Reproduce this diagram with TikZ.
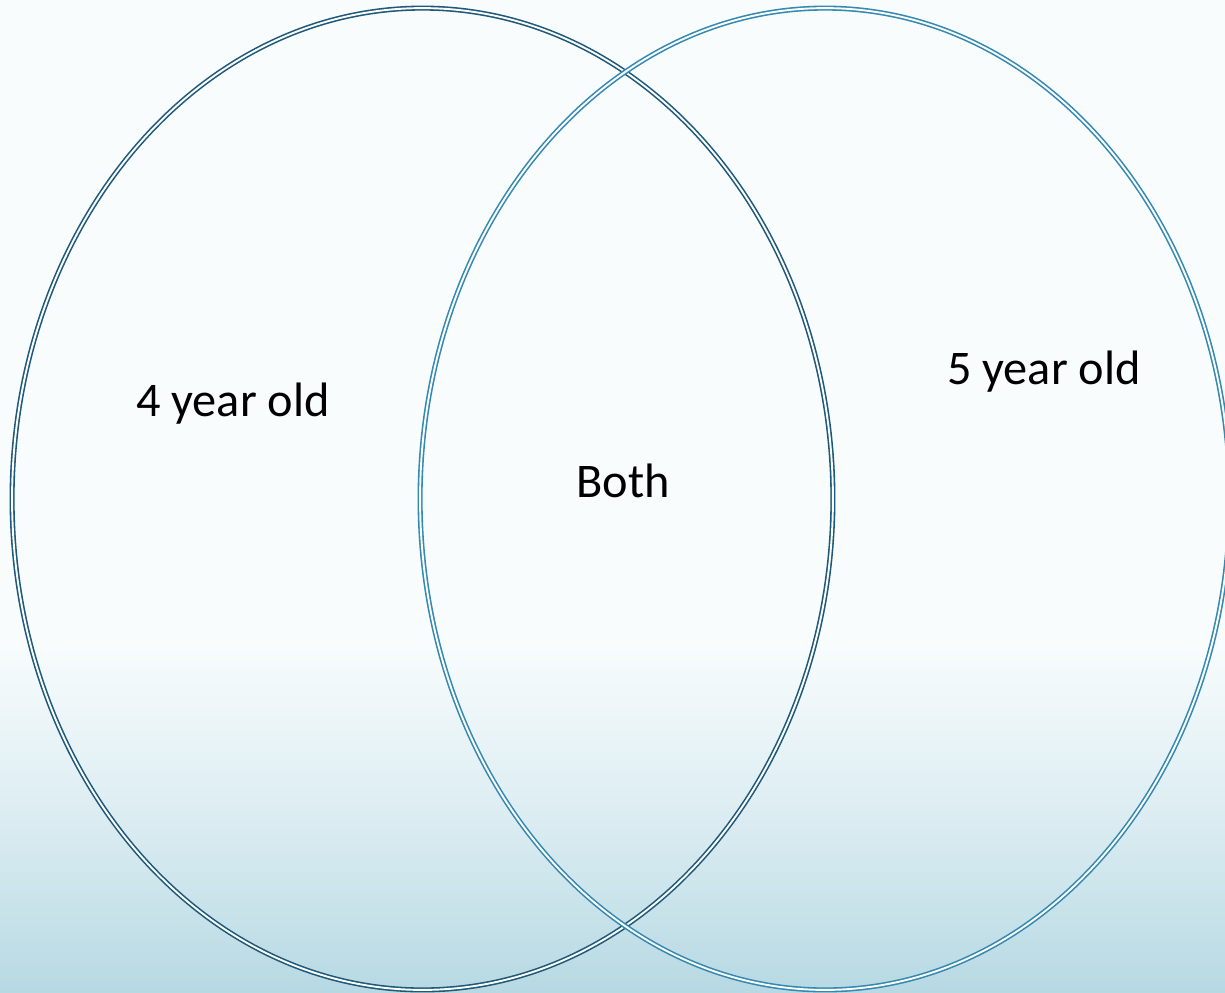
\documentclass[tikz,border=0pt]{standalone}
\usepackage{fontspec}
\setmainfont{Carlito}
\usetikzlibrary{positioning,shapes.geometric}
\definecolor{Sky}{HTML}{F8FCFD}
\definecolor{Mist}{HTML}{DCEDF2}
\definecolor{Sea}{HTML}{B7D9E3}
\definecolor{Navy}{HTML}{1F5878}
\definecolor{Teal}{HTML}{3589B0}
\pgfdeclareverticalshading{seabg}{100bp}{color(0bp)=(Sea); color(25bp)=(Sea); color(34bp)=(Mist); color(42.5bp)=(Sky); color(100bp)=(Sky)}
\tikzset{
  setring/.style={ellipse,draw,inner sep=0pt,line width=0.9pt,double=Sky,double distance=1.1pt},
  setlabel/.style={font=\fontsize{27.5}{32}\selectfont,text=black,inner sep=0pt}
}
\begin{document}
\begin{tikzpicture}[x=0.02cm,y=-0.02cm]
  \useasboundingbox (0,0) rectangle (1225,992);
  % background
  \shade[shading=seabg] (0,0) rectangle (1225,992);
  % the two sets
  \node[setring,draw=Navy,minimum width=16.42cm,minimum height=19.64cm] (four) at (422.5,499) {};
  \node[setring,draw=Teal,minimum width=16.2cm,minimum height=19.64cm] (five) at (825,499) {};
  % labels
  \node[setlabel] (fourlbl) at (233,404) {4 year old};
  \node[setlabel] (bothlbl) at (623,481) {Both};
  \node[setlabel] (fivelbl) at (1044,372) {5 year old};
\end{tikzpicture}
\end{document}
